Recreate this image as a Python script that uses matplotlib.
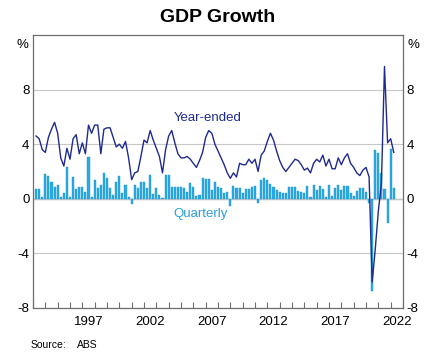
import numpy as np
import matplotlib
matplotlib.use("Agg")
import matplotlib.pyplot as plt

plt.rcParams["font.family"] = ["Liberation Sans", "DejaVu Sans"]

# quarterly real GDP growth, Mar-1993 .. Mar-2022 (per cent)
first_quarter = 1993.25  # Mar-1993, plotted at quarter end
quarterly = [
    0.74, 0.70, 0.15, 1.80, 1.65, 1.20, 0.85, 1.00, 0.10, 0.40,   # 1993-95
    2.35, 0.10, 1.60, 0.74, 0.85, 0.90, 0.50, 3.05, 0.10, 1.40,   # 1995-97
    0.78, 1.00, 1.90, 1.50, 0.78, 0.30, 1.25, 1.70, 0.40, 1.00,   # 1998-2000
    0.12, -0.35, 1.00, 0.80, 1.20, 1.20, 0.80, 1.72, 0.35, 0.82,  # 2000-03
    0.30, 0.05, 1.78, 1.72, 0.85, 0.85, 0.85, 0.85, 0.80, 0.50,   # 2003-05
    1.15, 0.85, 0.17, 0.25, 1.55, 1.45, 1.48, 0.67, 1.22, 0.85,   # 2005-08
    0.80, 0.40, 0.50, -0.50, 0.92, 0.80, 0.80, 0.45, 0.75, 0.72,  # 2008-10
    0.88, 0.95, -0.30, 1.35, 1.50, 1.35, 1.05, 0.85, 0.68, 0.48,  # 2010-13
    0.40, 0.40, 0.83, 0.83, 0.83, 0.54, 0.50, 0.45, 0.92, 0.12,   # 2013-15
    1.00, 0.66, 0.92, 0.72, 0.12, 1.02, 0.22, 0.80, 1.02, 0.64,   # 2015-18
    0.96, 0.96, 0.42, 0.17, 0.54, 0.79, 0.79, 0.47, -0.30, -6.75, # 2018-20
    3.55, 3.35, 1.90, 0.70, -1.80, 3.65, 0.80,                    # 2020-22
]
year_ended = [
    4.6, 4.4, 3.6, 3.4, 4.5, 5.1, 5.6, 4.8, 3.0, 2.4,
    3.7, 2.9, 4.4, 4.7, 3.3, 4.1, 3.3, 5.4, 4.8, 5.4,
    5.4, 3.3, 5.1, 5.2, 5.2, 4.5, 3.8, 4.0, 3.7, 4.2,
    3.0, 1.4, 1.9, 2.0, 3.1, 4.3, 4.1, 5.0, 4.3, 3.7,
    3.1, 1.9, 3.6, 4.6, 5.0, 4.1, 3.3, 3.0, 3.0, 3.1,
    2.9, 2.6, 2.3, 2.8, 3.4, 4.5, 5.0, 4.8, 4.0, 3.5,
    3.0, 2.5, 1.9, 1.5, 1.9, 1.6, 2.6, 2.5, 2.5, 2.9,
    2.6, 2.9, 2.0, 3.2, 3.5, 4.2, 4.8, 4.3, 3.5, 2.8,
    2.3, 2.0, 2.3, 2.6, 2.9, 2.8, 2.5, 2.1, 2.25, 1.9,
    2.6, 2.9, 2.7, 3.2, 2.4, 2.9, 2.2, 2.2, 3.0, 2.5,
    3.0, 3.3, 2.6, 2.3, 1.9, 1.7, 2.1, 2.3, 1.6, -6.1,
    -3.7, -0.9, 1.1, 9.7, 4.1, 4.4, 3.4,
]
year_ticks = list(range(1993, 2024))
year_labels = [1997, 2002, 2007, 2012, 2017, 2022]
y_ticks = [-8, -4, 0, 4, 8]

LINE = "#1f2a8e"
BAR = "#29aae2"
BAR_EDGE = "#1b96d2"
GRID = "#c8c8c8"
FRAME = "#6e6e6e"

x = first_quarter + 0.25 * np.arange(len(quarterly))

fig = plt.figure(figsize=(4.24, 3.62), dpi=100)
ax = fig.add_axes([33 / 424, 1 - 308 / 362, 370 / 424, 273 / 362])

ax.bar(x, quarterly, width=0.17, color=BAR, edgecolor=BAR_EDGE, lw=0.3,
       zorder=2)
ax.plot(x, year_ended, color=LINE, lw=1.0, zorder=3)

ax.set_xlim(1993, 2023)
ax.set_ylim(-8, 12)

ax.set_yticks(y_ticks)
ax.set_yticklabels([str(v) for v in y_ticks])
ax.grid(axis="y", color=GRID, lw=0.8, zorder=0)
ax.axhline(0, color="#8a8a8a", lw=0.9, zorder=1)
ax.tick_params(axis="y", length=0, labelsize=9.5, labelright=True,
               right=False, pad=2.5)

ax.set_xticks(year_ticks)
ax.set_xticklabels([])
ax.set_xticks([y + 0.5 for y in year_labels], minor=True)
ax.set_xticklabels([str(y) for y in year_labels], minor=True)
ax.tick_params(axis="x", which="major", direction="in", length=4,
               width=0.8, color=FRAME)
ax.tick_params(axis="x", which="minor", length=0, labelsize=9.5, pad=6)

for s in ax.spines.values():
    s.set_color(FRAME)
    s.set_linewidth(0.9)

ax.text(-0.012, 0.985, "%", transform=ax.transAxes, ha="right", va="top",
        fontsize=9.5)
ax.text(1.012, 0.985, "%", transform=ax.transAxes, ha="left", va="top",
        fontsize=9.5)

ax.text(2007.2, 5.95, "Year-ended", color=LINE, fontsize=9.5,
        ha="center", va="center")
ax.text(2006.6, -1.1, "Quarterly", color="#2a9fdc", fontsize=9.5,
        ha="center", va="center")

fig.text(218 / 424, 1 - 18 / 362, "GDP Growth", ha="center", va="center",
         fontsize=14, fontweight="bold")
fig.text(31 / 424, 1 - 345 / 362, "Source:", ha="left", va="center",
         fontsize=7.5)
fig.text(77 / 424, 1 - 345 / 362, "ABS", ha="left", va="center",
         fontsize=7.5)

fig.savefig("out.png", dpi=100)
